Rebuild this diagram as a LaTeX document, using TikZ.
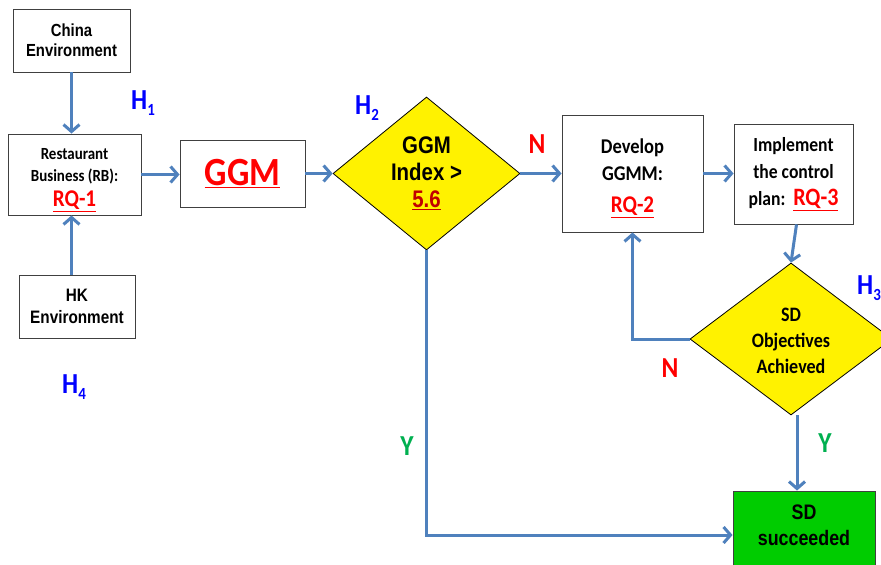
\documentclass[tikz,border=0pt]{standalone}
\usepackage{fontspec}
\usetikzlibrary{shapes.geometric,arrows.meta}
\newfontfamily\arnfont[FakeStretch=0.85]{Liberation Sans}
\newfontfamily\calfont[FakeStretch=0.88]{Carlito}
\newcommand\fsz[2]{\fontsize{#1}{#2}\selectfont}
\newcommand\hlab[1]{H\raisebox{-0.4ex}{\fontsize{17}{17}\selectfont #1}}
\newcommand\padtop[2]{\raisebox{0pt}[\dimexpr\height+#1\relax][\depth]{#2}}
\newcommand\padbot[2]{\raisebox{0pt}[\height][\dimexpr\depth+#1\relax]{#2}}
\definecolor{arrowblue}{HTML}{4F81BD}
\definecolor{hblue}{HTML}{0000FF}
\definecolor{ygreen}{HTML}{00B050}
\definecolor{dred}{HTML}{C00000}
\definecolor{sdgreen}{HTML}{00CC00}
\tikzset{
  box/.style={draw=black!75, line width=0.9pt, fill=white, align=center, inner sep=0pt},
  dia/.style={diamond, draw=black, line width=0.8pt, fill=yellow, align=center, inner sep=0pt, aspect=1.2},
  conn/.style={draw=arrowblue, line width=3pt, -{Straight Barb[length=7pt,width=16pt]}},
  hl/.style={text=hblue, font=\calfont\bfseries\fsz{29}{29}, inner sep=0pt},
  nl/.style={text=red, font=\calfont\bfseries\fsz{29}{29}, inner sep=0pt},
  yl/.style={text=ygreen, font=\calfont\bfseries\fsz{29}{29}, inner sep=0pt}
}
\begin{document}
\begin{tikzpicture}[x=1pt,y=-1pt]
\fill[white] (0,0) rectangle (881,565);
\useasboundingbox (0,0) rectangle (881,565);

\node[box, minimum width=117pt, minimum height=63pt, font=\arnfont\bfseries\fsz{17.5}{20}] (china) at (71.5,40.5) {China\\Environment};
\node[box, minimum width=133pt, minimum height=81pt, font=\calfont\bfseries\fsz{17}{22}] (rb) at (74.5,174.5) {\padtop{8pt}{\begin{tabular}{@{}c@{}}Restaurant\\Business (RB):\\[3pt]{\fsz{24}{24}\textcolor{red}{\underline{RQ-1}}}\end{tabular}}};
\node[box, minimum width=116pt, minimum height=63pt, font=\arnfont\bfseries\fsz{18}{22}] (hk) at (77,306.5) {HK\\Environment};
\node[box, minimum width=125pt, minimum height=67pt, font=\calfont\bfseries\fsz{40}{40}, text=red] (ggm) at (242.5,173.5) {\underline{GGM}};
\node[dia, minimum width=187pt, minimum height=153pt, font=\arnfont\bfseries\fsz{24}{27}] (d1) at (426.5,173.5) {GGM\\Index >\\\textcolor{dred}{\underline{5.6}}};
\node[box, minimum width=141pt, minimum height=117pt, font=\calfont\bfseries\fsz{21}{27}] (dev) at (632.5,173.5) {\padtop{8pt}{\begin{tabular}{@{}c@{}}Develop\\GGMM:\\[5pt]{\fsz{24}{26}\textcolor{red}{\underline{RQ-2}}}\end{tabular}}};
\node[box, minimum width=119pt, minimum height=100pt, font=\calfont\bfseries\fsz{20}{27}] (impl) at (793.5,174) {Implement\\the control\\plan:\ \ {\fsz{25}{25}\textcolor{red}{\underline{RQ-3}}}};
\node[dia, minimum width=202pt, minimum height=152pt, font=\calfont\bfseries\fsz{20.5}{26}] (d2) at (791,339) {\padtop{6pt}{\begin{tabular}{@{}c@{}}SD\\Objectives\\Achieved\end{tabular}}};
\node[box, fill=sdgreen, minimum width=142pt, minimum height=80pt, font=\arnfont\bfseries\fsz{21}{26}] (sd) at (804,531) {\padbot{8pt}{\begin{tabular}{@{}c@{}}SD\\succeeded\end{tabular}}};

\node[hl] (h1) at (143,103) {\hlab{1}};
\node[hl] (h2) at (367,108) {\hlab{2}};
\node[hl] (h3) at (869,288) {\hlab{3}};
\node[hl] (h4) at (74,387) {\hlab{4}};
\node[nl] (n1) at (537,144) {N};
\node[nl] (n2) at (670,368) {N};
\node[yl] (y1) at (407,446) {Y};
\node[yl] (y2) at (825,443) {Y};

\draw[conn] (china.south) -- (china.south |- rb.north);
\draw[conn] (china.south |- hk.north) -- (china.south |- rb.south);
\draw[conn] (rb.east) -- (rb.east -| ggm.west);
\draw[conn] (ggm.east) -- (d1.west);
\draw[conn] (d1.east) -- (dev.west);
\draw[conn] (dev.east) -- (dev.east -| impl.west);
\draw[conn] ([xshift=3pt]impl.south) -- (d2.north);
\draw[conn] (d2.west) -| (dev.south);
\draw[conn] ([xshift=6pt]d2.south) -- ([xshift=6pt]d2.south |- sd.north);
\draw[conn] (d1.south) |- ([yshift=-4pt]sd.west);
\end{tikzpicture}
\end{document}
